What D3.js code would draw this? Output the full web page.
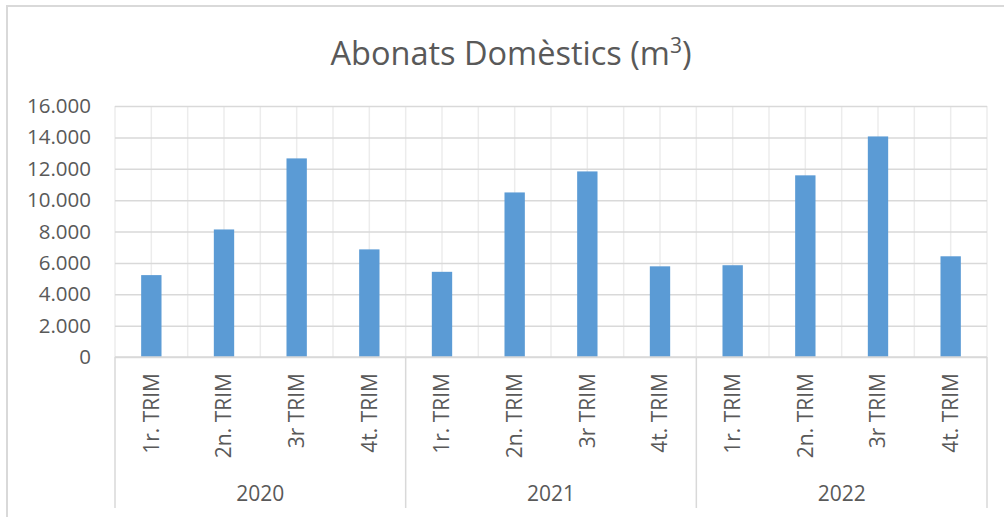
<!DOCTYPE html>
<html>
<head>
<meta charset="utf-8">
<script src="https://cdn.jsdelivr.net/npm/d3@7"></script>
<style>
  html, body { margin: 0; padding: 0; background: #fff; }
  svg { display: block; }
  text { font-family: "Open Sans", "Noto Sans", sans-serif; fill: #595959; }
</style>
</head>
<body>
<svg id="chart" width="1004" height="517"></svg>
<script>
const years = ["2020", "2021", "2022"];
const quarters = ["1r. TRIM", "2n. TRIM", "3r TRIM", "4t. TRIM"];
const values2020 = [5220, 8130, 12660, 6860];
const values2021 = [5430, 10490, 11830, 5780];
const values2022 = [5850, 11580, 14060, 6420];
const yTicks = [0, 2000, 4000, 6000, 8000, 10000, 12000, 14000, 16000];
const titleText = "Abonats Domèstics (m";
const titleSup = "3";

const seriesByYear = [values2020, values2021, values2022];
const data = [];
years.forEach((y, i) => quarters.forEach((q, j) => data.push({ key: y + "|" + q, year: y, quarter: q, value: seriesByYear[i][j] })));

const svg = d3.select("#chart");
const W = 1004, H = 517;
const plot = { left: 115, right: 987, top: 106, bottom: 357 };

// outer chart frame
svg.append("rect")
  .attr("x", 7).attr("y", 6).attr("width", W + 10).attr("height", H + 10)
  .attr("fill", "#fff").attr("stroke", "#d9d9d9").attr("stroke-width", 2);

const x = d3.scaleBand().domain(data.map(d => d.key)).range([plot.left, plot.right]).paddingInner(0).paddingOuter(0);
const y = d3.scaleLinear().domain([0, 16000]).range([plot.bottom, plot.top]);
const bw = x.bandwidth();
const barW = bw * 0.28;

const locale = d3.formatLocale({ decimal: ",", thousands: ".", grouping: [3], currency: ["", "€"] });
const fmt = locale.format(",d");

// vertical gridlines (at half-category steps)
const vLines = [];
data.forEach(d => { vLines.push(x(d.key)); vLines.push(x(d.key) + bw / 2); });
vLines.push(plot.right);
svg.append("g").selectAll("line").data(vLines).join("line")
  .attr("x1", d => d).attr("x2", d => d)
  .attr("y1", plot.top).attr("y2", plot.bottom)
  .attr("stroke", "#ececec").attr("stroke-width", 1.5);

// horizontal gridlines + y axis labels via d3 axis
const yAxis = d3.axisLeft(y).tickValues(yTicks).tickFormat(fmt).tickSize(-(plot.right - plot.left)).tickPadding(24);
const gy = svg.append("g").attr("transform", `translate(${plot.left},0)`).call(yAxis);
gy.select(".domain").remove();
gy.selectAll(".tick line").attr("stroke", "#d9d9d9").attr("stroke-width", 1.5);
gy.selectAll(".tick text").attr("font-size", 20.5).attr("fill", "#595959")
  .attr("font-family", '"Open Sans", sans-serif');

// bars
svg.append("g").selectAll("rect").data(data).join("rect")
  .attr("x", d => x(d.key) + (bw - barW) / 2)
  .attr("width", barW)
  .attr("y", d => y(d.value))
  .attr("height", d => y(0) - y(d.value))
  .attr("fill", "#5b9bd5");

// category axis baseline
svg.append("line")
  .attr("x1", plot.left).attr("x2", plot.right)
  .attr("y1", plot.bottom).attr("y2", plot.bottom)
  .attr("stroke", "#d9d9d9").attr("stroke-width", 1.5);

// year separators
const sepX = [plot.left];
years.forEach(yr => sepX.push(x(yr + "|" + quarters[quarters.length - 1]) + bw));
svg.append("g").selectAll("line").data(sepX).join("line")
  .attr("x1", d => d).attr("x2", d => d)
  .attr("y1", plot.bottom).attr("y2", 508)
  .attr("stroke", "#d9d9d9").attr("stroke-width", 1.5);

// quarter labels (rotated)
svg.append("g").selectAll("text").data(data).join("text")
  .attr("transform", d => `translate(${x(d.key) + bw / 2},373) rotate(-90)`)
  .attr("text-anchor", "end")
  .attr("dy", "0.35em")
  .attr("font-size", 21)
  .text(d => d.quarter);

// year labels
svg.append("g").selectAll("text").data(years).join("text")
  .attr("x", yr => (x(yr + "|" + quarters[0]) + x(yr + "|" + quarters[3]) + bw) / 2)
  .attr("y", 501)
  .attr("text-anchor", "middle")
  .attr("font-size", 21)
  .text(yr => yr);

// title
const t = svg.append("text")
  .attr("x", 511).attr("y", 65)
  .attr("text-anchor", "middle")
  .attr("font-size", 32.5);
t.append("tspan").text(titleText);
t.append("tspan").attr("font-size", 21).attr("dy", -12).text(titleSup);
t.append("tspan").attr("dy", 12).text(")");
</script>
</body>
</html>
